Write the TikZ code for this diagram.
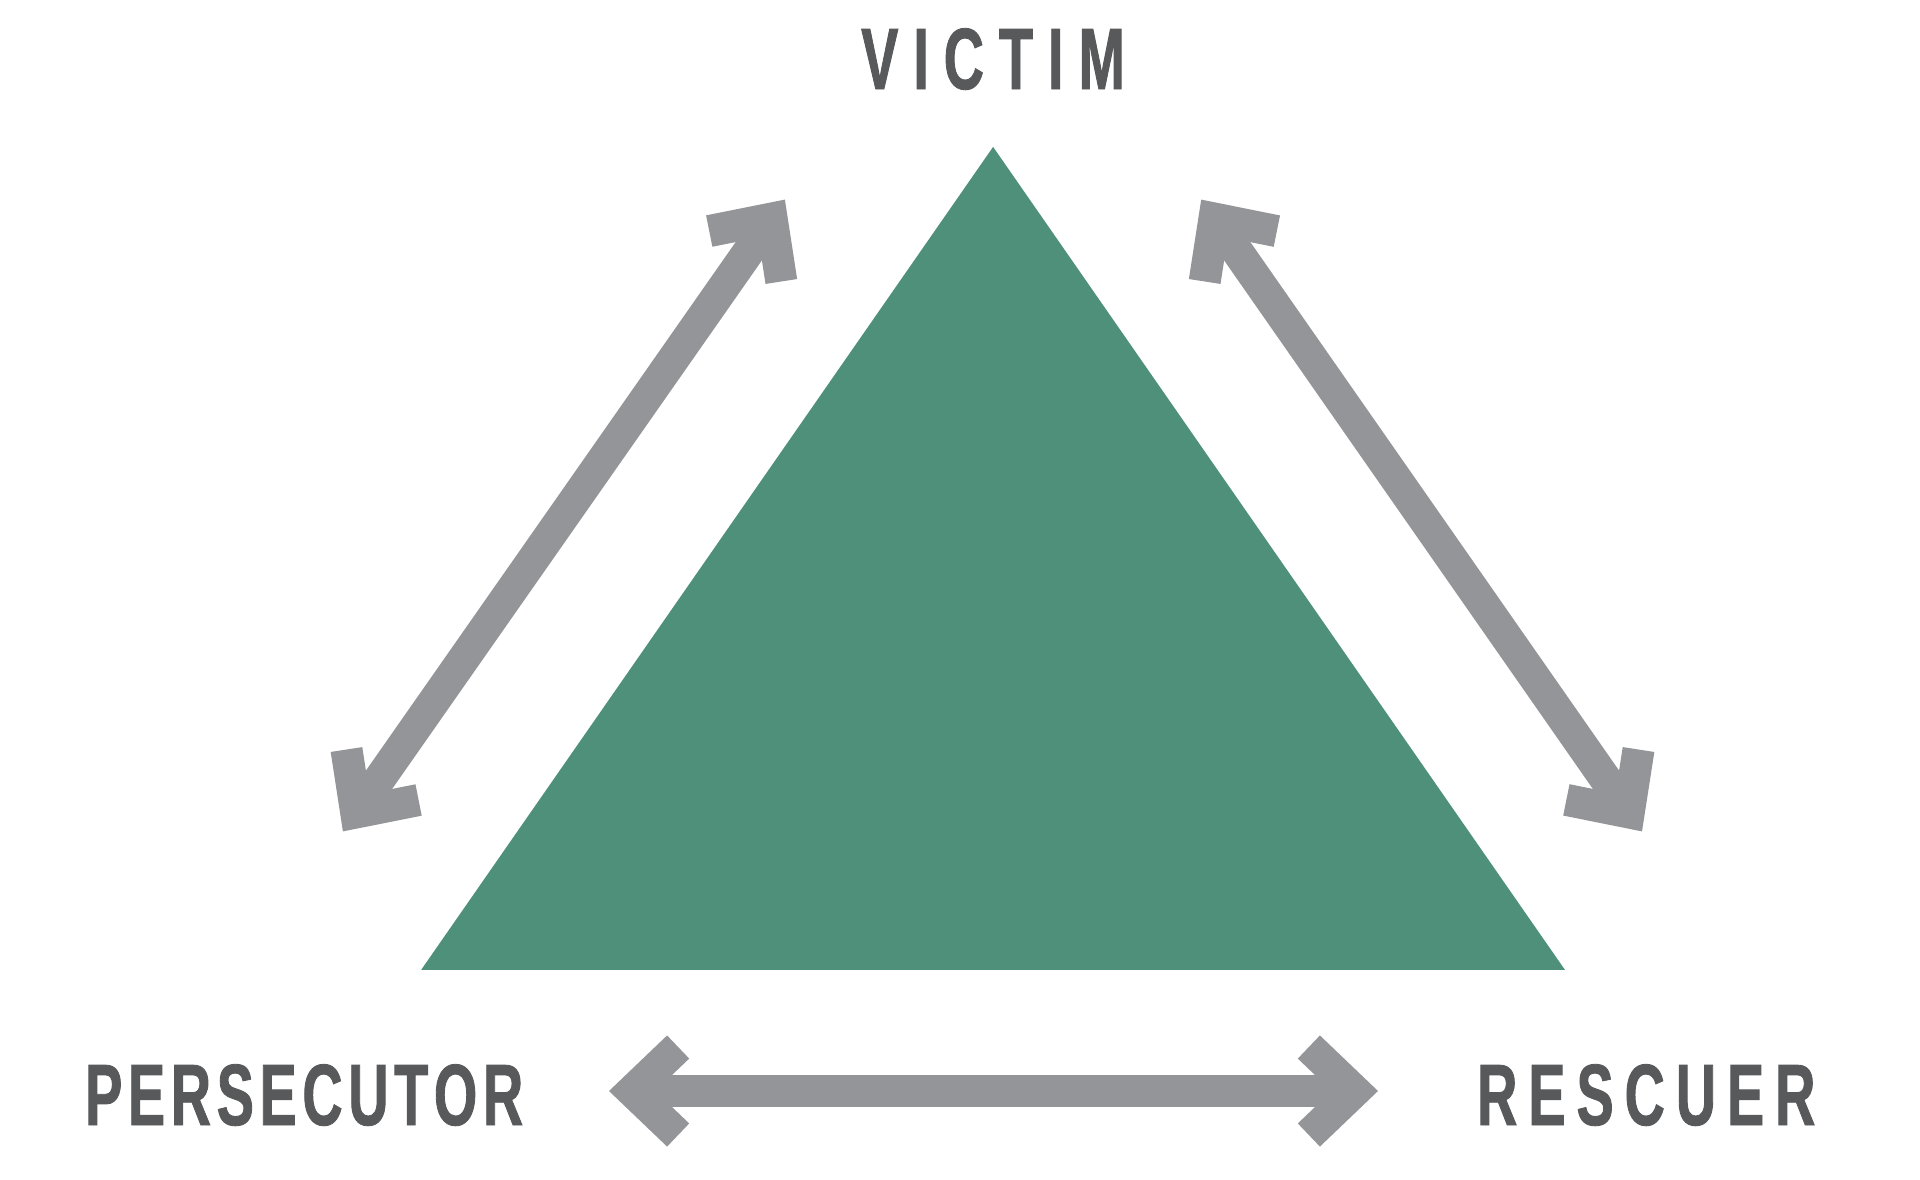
\documentclass[tikz,border=0pt]{standalone}
\usepackage{fontspec}
\usetikzlibrary{arrows.meta}
\newfontfamily\lblfont{Liberation Sans}[FakeStretch=0.64,FakeBold=1]
\definecolor{trigreen}{RGB}{79,144,122}
\definecolor{arrowgray}{RGB}{148,149,153}
\definecolor{textgray}{RGB}{88,89,91}
\newlength\trk
\newcommand\tk{\kern\trk}
\begin{document}
\begin{tikzpicture}[x=1pt,y=-1pt,
  lbl/.style={inner sep=0pt, text=textgray, anchor=base west,
    font=\lblfont\bfseries\fontsize{87}{90}\selectfont},
  dblarrow/.style={draw=arrowgray, line width=32pt,
    >={Straight Barb[length=46pt,width=88pt]}, <->},
  tri/.style={fill=trigreen, draw=none}]
\useasboundingbox (0,0) rectangle (1920,1179);
% triangle
\coordinate (apex) at (993.1,146.9);
\coordinate (bl) at (421.2,969.8);
\coordinate (br) at (1564.9,969.8);
\fill[tri] (apex) -- (bl) -- (br) -- cycle;
% labels
\node[lbl] (victim) at (861,89) {\setlength\trk{15pt}V\tk I\tk C\tk T\tk I\tk M};
\node[lbl] (pers) at (85,1125) {\setlength\trk{5.7pt}P\tk E\tk R\tk S\tk E\tk C\tk U\tk T\tk O\tk R};
\node[lbl] (resc) at (1477,1125) {\setlength\trk{11pt}R\tk E\tk S\tk C\tk U\tk E\tk R};
% arrow ends
\coordinate (a1) at (342.9,831.4);
\coordinate (a2) at (784.9,199.6);
\coordinate (b1) at (1201.2,199.6);
\coordinate (b2) at (1642.0,831.4);
\coordinate (c1) at (609,1091);
\coordinate (c2) at (1378,1091);
\draw[dblarrow] (a1) -- (a2);
\draw[dblarrow] (b1) -- (b2);
\draw[dblarrow] (c1) -- (c2);
\end{tikzpicture}
\end{document}
